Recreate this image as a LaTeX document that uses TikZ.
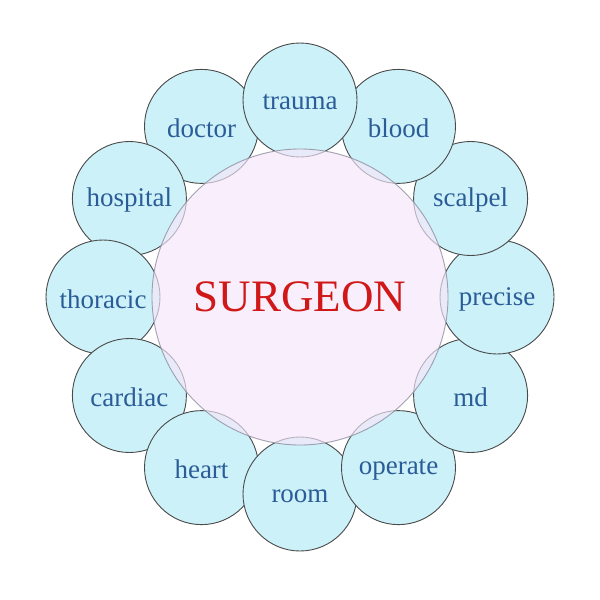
\documentclass[tikz,border=0pt]{standalone}
\usepackage{fontspec}
\usetikzlibrary{calc}
\setmainfont{Liberation Serif}
\definecolor{outerfill}{HTML}{CDF1F9}
\definecolor{outerline}{HTML}{4A4A4A}
\definecolor{innerfill}{HTML}{F7E6FA}
\definecolor{innerline}{HTML}{8C8C9C}
\definecolor{wordblue}{HTML}{2A5C98}
\definecolor{titlered}{HTML}{D01818}
\tikzset{
  outercirc/.style={circle, draw=outerline, line width=0.9pt, fill=outerfill, minimum size=114pt, inner sep=0pt},
  wordtext/.style={text=wordblue, font=\fontsize{27}{27}\selectfont, yshift=-2pt},
  innercirc/.style={circle, draw=innerline, line width=0.9pt, fill=innerfill, fill opacity=0.65, draw opacity=0.8, minimum size=296pt, inner sep=0pt},
  titletext/.style={text=titlered, font=\fontsize{45}{45}\selectfont}
}
\begin{document}
\begin{tikzpicture}[x=1pt,y=-1pt]
\useasboundingbox (0,0) rectangle (600,600);
\fill[white] (0,0) rectangle (600,600);
\coordinate (c) at (300,297);
\foreach \ang/\nm in {120/doctor,150/hospital,180/thoracic,210/cardiac,240/heart,270/room,300/operate,330/md,0/precise,30/scalpel,60/blood,90/trauma}{
  \node[outercirc] (c-\nm) at ($(c)+({197*cos(\ang)},{-197*sin(\ang)})$) {};
}
\node[innercirc] (center) at (c) {};
\foreach \nm in {doctor,hospital,thoracic,cardiac,heart,room,operate,md,precise,scalpel,blood,trauma}{
  \node[wordtext] (t-\nm) at (c-\nm) {\nm};
}
\node[titletext] (title) at (center) {SURGEON};
\end{tikzpicture}
\end{document}
